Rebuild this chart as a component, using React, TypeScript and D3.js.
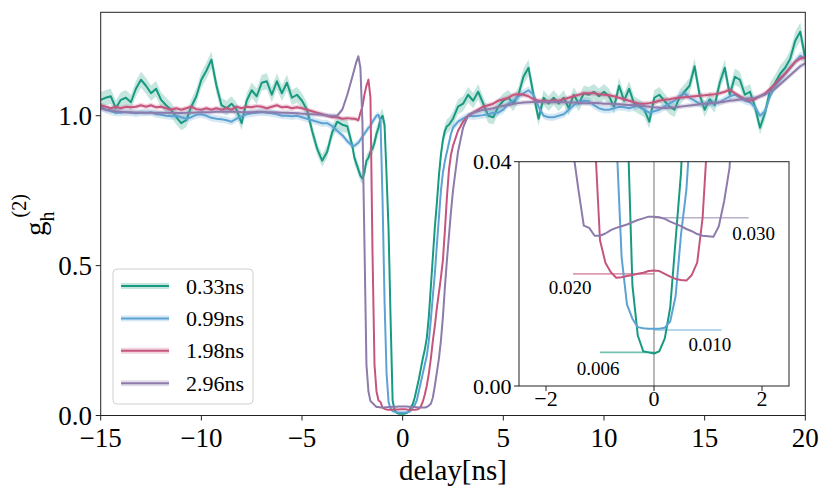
import * as d3 from "d3";

// delay grid: coarse on the baseline, fine through the antibunching dip
const delayLeft = d3.range(50).map((i) => -15 + i * 0.25);
const delayCore = d3.range(51).map((i) => +(-2.5 + i * 0.1).toFixed(2));
const delayRight = d3.range(70).map((i) => 2.75 + i * 0.25);
const delays = [...delayLeft, ...delayCore, ...delayRight];

// g2 for each pulse width
const g033 = [
	1.053, 1.06, 1.065, 1.025, 1.053, 1.06, 1.045, 1.09, 1.12, 1.1,
	1.075, 1.09, 1.053, 1.035, 1.02, 0.995, 0.975, 0.985, 1.03, 1.065,
	1.12, 1.15, 1.187, 1.1, 1.035, 1.025, 1.04, 1.02, 0.975, 1.05,
	1.085, 1.065, 1.11, 1.115, 1.07, 1.115, 1.075, 1.11, 1.06, 1.07,
	1.05, 1.02, 0.95, 0.89, 0.85, 0.88, 0.945, 0.98, 0.97, 0.965,
	// core -2.5 .. 2.5
	0.9, 0.86, 0.84, 0.82, 0.8, 0.79, 0.81, 0.85, 0.86, 0.88,
	0.89, 0.91, 0.94, 0.96, 0.99, 1.0, 0.97, 0.8, 0.62, 0.32,
	0.05, 0.018, 0.009, 0.0062, 0.006, 0.0058, 0.0062, 0.0085, 0.014, 0.026,
	0.038, 0.06, 0.09, 0.12, 0.155, 0.19, 0.22, 0.26, 0.33, 0.43,
	0.53, 0.63, 0.71, 0.8, 0.87, 0.92, 0.95, 0.965, 0.97, 0.98, 0.99,
	// 2.75 .. 20
	1.03, 1.04, 1.07, 1.05, 1.08, 1.04, 1.0, 0.995, 1.03, 1.05,
	1.06, 1.04, 1.07, 1.13, 1.16, 1.07, 0.99, 1.06, 1.04, 1.06,
	1.04, 1.06, 1.025, 1.07, 1.04, 1.075, 1.07, 1.08, 1.065, 1.08,
	1.065, 1.03, 1.1, 1.05, 1.09, 1.04, 1.03, 1.02, 0.98, 1.06,
	1.07, 1.05, 1.03, 1.02, 1.06, 1.08, 1.1, 1.165, 1.07, 1.02,
	1.055, 1.035, 1.11, 1.16, 1.07, 1.13, 1.12, 1.07, 1.08, 1.03,
	0.96, 1.01, 1.085, 1.11, 1.14, 1.16, 1.19, 1.25, 1.28, 1.19,
];

const g099 = [
	1.03, 1.02, 1.015, 1.01, 1.01, 1.012, 1.01, 1.008, 1.01, 1.01,
	1.012, 1.005, 1.003, 1.0, 0.998, 1.0, 0.995, 0.99, 0.995, 1.003,
	1.005, 1.0, 0.993, 0.99, 0.988, 0.985, 0.98, 0.99, 0.998, 1.005,
	1.008, 1.01, 1.012, 1.01, 1.008, 1.005, 1.0, 1.0, 0.998, 1.0,
	0.995, 0.99, 0.985, 0.98, 0.975, 0.975, 0.965, 0.95, 0.935, 0.915,
	0.9, 0.9, 0.905, 0.91, 0.92, 0.93, 0.94, 0.95, 0.96, 0.965,
	0.98, 0.99, 1.0, 1.003, 0.98, 0.72, 0.38, 0.14, 0.045, 0.023,
	0.0145, 0.012, 0.0105, 0.0103, 0.0102, 0.0102, 0.0102, 0.0104, 0.0115, 0.016,
	0.027, 0.035, 0.05, 0.08, 0.11, 0.14, 0.17, 0.2, 0.25, 0.32,
	0.4, 0.475, 0.57, 0.66, 0.75, 0.81, 0.85, 0.88, 0.91, 0.94, 0.96,
	0.98, 0.99, 1.0, 0.998, 1.0, 1.002, 1.005, 1.01, 1.01, 1.02,
	1.04, 1.05, 1.065, 1.075, 1.085, 1.07, 1.03, 1.0, 0.995, 0.995,
	1.0, 1.005, 1.02, 1.035, 1.045, 1.05, 1.048, 1.035, 1.025, 1.02,
	1.02, 1.025, 1.03, 1.028, 1.025, 1.03, 1.035, 1.02, 1.01, 1.015,
	1.02, 1.03, 1.04, 1.05, 1.065, 1.075, 1.06, 1.05, 1.04, 1.04,
	1.045, 1.04, 1.045, 1.055, 1.065, 1.07, 1.06, 1.05, 1.045, 1.03,
	1.0, 1.015, 1.065, 1.1, 1.12, 1.14, 1.16, 1.18, 1.2, 1.19,
];

const g198 = [
	1.035, 1.03, 1.025, 1.03, 1.025, 1.03, 1.028, 1.03, 1.035, 1.03,
	1.035, 1.028, 1.03, 1.025, 1.02, 1.025, 1.02, 1.025, 1.03, 1.022,
	1.02, 1.025, 1.02, 1.025, 1.02, 1.025, 1.02, 1.03, 1.025, 1.03,
	1.028, 1.032, 1.03, 1.025, 1.03, 1.035, 1.028, 1.03, 1.025, 1.028,
	1.025, 1.02, 1.015, 1.01, 1.005, 1.0, 0.995, 0.995, 0.99, 0.992,
	0.99, 0.99, 0.988, 0.985, 1.01, 1.03, 1.07, 1.1, 1.12, 1.06,
	0.55, 0.17, 0.08, 0.05, 0.045, 0.026, 0.022, 0.0203, 0.0193, 0.0194,
	0.0196, 0.0198, 0.02, 0.0202, 0.0205, 0.0206, 0.0205, 0.02, 0.0195, 0.0191,
	0.0189, 0.0188, 0.0198, 0.022, 0.03, 0.046, 0.07, 0.1, 0.14, 0.19,
	0.25, 0.3, 0.36, 0.41, 0.46, 0.52, 0.62, 0.73, 0.82, 0.87, 0.9,
	0.95, 0.98, 1.0, 1.01, 1.02, 1.03, 1.035, 1.04, 1.05, 1.055,
	1.06, 1.07, 1.072, 1.07, 1.065, 1.055, 1.05, 1.05, 1.048, 1.052,
	1.05, 1.055, 1.06, 1.065, 1.07, 1.075, 1.075, 1.075, 1.072, 1.07,
	1.068, 1.065, 1.06, 1.055, 1.05, 1.045, 1.04, 1.04, 1.042, 1.045,
	1.05, 1.053, 1.055, 1.058, 1.06, 1.062, 1.063, 1.065, 1.067, 1.068,
	1.07, 1.072, 1.075, 1.08, 1.087, 1.075, 1.065, 1.055, 1.05, 1.055,
	1.065, 1.075, 1.09, 1.105, 1.125, 1.14, 1.16, 1.18, 1.19, 1.195,
];

const g296 = [
	1.025, 1.02, 1.018, 1.015, 1.013, 1.012, 1.012, 1.011, 1.011, 1.01,
	1.01, 1.01, 1.01, 1.01, 1.01, 1.009, 1.009, 1.01, 1.01, 1.011,
	1.012, 1.012, 1.012, 1.013, 1.013, 1.013, 1.013, 1.013, 1.012, 1.012,
	1.012, 1.013, 1.013, 1.012, 1.012, 1.011, 1.01, 1.01, 1.009, 1.008,
	1.007, 1.006, 1.005, 1.004, 1.003, 1.001, 1.0, 1.0, 1.02, 1.07,
	1.13, 1.155, 1.18, 1.198, 1.16, 0.98, 0.58, 0.17, 0.08, 0.048,
	0.042, 0.035, 0.0286, 0.0282, 0.0268, 0.0268, 0.0272, 0.0278, 0.0282, 0.0285,
	0.0288, 0.0292, 0.0296, 0.0299, 0.0302, 0.0302, 0.0301, 0.0298, 0.0293, 0.0289,
	0.0285, 0.028, 0.0276, 0.0271, 0.0268, 0.0267, 0.0266, 0.0285, 0.033, 0.039,
	0.06, 0.1, 0.145, 0.19, 0.25, 0.33, 0.43, 0.52, 0.6, 0.68, 0.75,
	0.88, 0.96, 1.0, 1.01, 1.015, 1.02, 1.022, 1.025, 1.03, 1.033,
	1.036, 1.04, 1.042, 1.044, 1.045, 1.046, 1.046, 1.045, 1.045, 1.046,
	1.045, 1.045, 1.044, 1.044, 1.043, 1.042, 1.042, 1.043, 1.042, 1.04,
	1.04, 1.039, 1.038, 1.037, 1.036, 1.035, 1.034, 1.032, 1.03, 1.028,
	1.027, 1.026, 1.027, 1.028, 1.03, 1.032, 1.034, 1.036, 1.038, 1.04,
	1.041, 1.043, 1.045, 1.047, 1.05, 1.052, 1.054, 1.056, 1.058, 1.06,
	1.065, 1.07, 1.08, 1.09, 1.105, 1.12, 1.135, 1.15, 1.165, 1.175,
];

const seriesLabels = ["0.33ns", "0.99ns", "1.98ns", "2.96ns"];
const seriesValues = [g033, g099, g198, g296];
// relative uncertainty of each trace (shaded band)
const seriesErr = [0.024, 0.012, 0.008, 0.008];
const colors = ["#179a80", "#5ca3d4", "#c6557e", "#8c7bab"];

// minimum g2 levels marked in the inset
const levels = [
	{ label: "0.006", value: 0.006, from: -1.0, to: 0 },
	{ label: "0.010", value: 0.01, from: 0, to: 1.25 },
	{ label: "0.020", value: 0.02, from: -1.5, to: 0 },
	{ label: "0.030", value: 0.03, from: 0, to: 1.75 },
];
// where the level labels sit (inset data coords)
const levelLabelPos = [
	{ x: -1.43, y: 0.00196 },
	{ x: 0.64, y: 0.00624 },
	{ x: -1.95, y: 0.0164 },
	{ x: 1.45, y: 0.026 },
];

const xTicks = [-15, -10, -5, 0, 5, 10, 15, 20];
const yTicks = [0, 0.5, 1.0];
const insetXTicks = [-2, 0, 2];
const insetYTicks = [0, 0.04];

const FONT = "'Liberation Serif', 'DejaVu Serif', serif";
const minus = (v: number, s: string) => (v < 0 ? "\u2212" + s.replace("-", "") : s);

export default function App() {
	const width = 830;
	const height = 498;
	const box = { left: 100.7, right: 805.3, top: 12.3, bottom: 415.5 };
	const ibox = { left: 519, right: 789, top: 161.7, bottom: 386 };

	const x = d3.scaleLinear().domain([-15, 20]).range([box.left, box.right]);
	const y = d3.scaleLinear().domain([0, 1.345]).range([box.bottom, box.top]);
	const xi = d3.scaleLinear().domain([-2.5, 2.5]).range([ibox.left, ibox.right]);
	const yi = d3.scaleLinear().domain([0, 0.04]).range([ibox.bottom, ibox.top]);

	const coreStart = delayLeft.length;
	const coreEnd = coreStart + delayCore.length;

	const fmt1 = d3.format(".1f");
	const fmt2 = d3.format(".2f");

	return (
		<svg
			width={width}
			height={height}
			style={{ position: "absolute", left: 0, top: 0, background: "#fff" }}
			fontFamily={FONT}
		>
			<defs>
				<clipPath id="main-clip">
					<rect x={box.left} y={box.top} width={box.right - box.left} height={box.bottom - box.top} />
				</clipPath>
				<clipPath id="inset-clip">
					<rect x={ibox.left} y={ibox.top} width={ibox.right - ibox.left} height={ibox.bottom - ibox.top} />
				</clipPath>
			</defs>

			{/* main traces */}
			<g clipPath="url(#main-clip)">
				{seriesValues.map((vals, s) => {
					const pts = vals.map((v, i) => [delays[i], v] as [number, number]);
					const band = d3
						.area<[number, number]>()
						.x((d) => x(d[0]))
						.y0((d) => y(d[1] * (1 - seriesErr[s])))
						.y1((d) => y(d[1] * (1 + seriesErr[s])));
					const line = d3
						.line<[number, number]>()
						.x((d) => x(d[0]))
						.y((d) => y(d[1]));
					return (
						<g key={s}>
							<path d={band(pts) ?? ""} fill={colors[s]} fillOpacity={0.25} stroke="none" />
							<path d={line(pts) ?? ""} fill="none" stroke={colors[s]} strokeWidth={2} strokeLinejoin="round" />
						</g>
					);
				})}
			</g>

			{/* main frame */}
			<rect
				x={box.left}
				y={box.top}
				width={box.right - box.left}
				height={box.bottom - box.top}
				fill="none"
				stroke="#222"
				strokeWidth={1}
			/>
			{xTicks.map((t) => (
				<g key={t}>
					<line x1={x(t)} x2={x(t)} y1={box.bottom} y2={box.bottom + 5} stroke="#222" />
					<text x={x(t)} y={447} textAnchor="middle" fontSize={27}>
						{minus(t, String(t))}
					</text>
				</g>
			))}
			{yTicks.map((t) => (
				<g key={t}>
					<line x1={box.left - 5} x2={box.left} y1={y(t)} y2={y(t)} stroke="#222" />
					<text x={92} y={y(t) + 9} textAnchor="end" fontSize={27}>
						{fmt1(t)}
					</text>
				</g>
			))}
			<text x={(box.left + box.right) / 2} y={480} textAnchor="middle" fontSize={29}>
				delay[ns]
			</text>
			<text transform="translate(45,215) rotate(-90)" textAnchor="middle" fontSize={29}>
				g
				<tspan dy={9} fontSize={20}>
					h
				</tspan>
				<tspan dx={-6} dy={-28} fontSize={20}>
					(2)
				</tspan>
			</text>

			{/* legend */}
			<rect x={113} y={269} width={140} height={135} rx={4} fill="#fff" fillOpacity={0.8} stroke="#d0d0d0" />
			{seriesLabels.map((lab, s) => {
				const ly = 286 + s * 32.4;
				return (
					<g key={lab}>
						<rect x={121} y={ly - 3} width={48} height={6} fill={colors[s]} fillOpacity={0.25} />
						<line x1={121} x2={169} y1={ly} y2={ly} stroke={colors[s]} strokeWidth={2} />
						<text x={186} y={ly + 7.5} fontSize={22}>
							{lab}
						</text>
					</g>
				);
			})}

			{/* inset */}
			<rect
				x={ibox.left}
				y={ibox.top}
				width={ibox.right - ibox.left}
				height={ibox.bottom - ibox.top}
				fill="#fff"
			/>
			<g clipPath="url(#inset-clip)">
				<line x1={xi(0)} x2={xi(0)} y1={ibox.top} y2={ibox.bottom} stroke="#a8a8a8" strokeWidth={1.6} />
				{levels.map((lv, s) => (
					<line
						key={lv.label}
						x1={xi(lv.from)}
						x2={xi(lv.to)}
						y1={yi(lv.value)}
						y2={yi(lv.value)}
						stroke={colors[s]}
						strokeOpacity={0.6}
						strokeWidth={1.6}
					/>
				))}
				{seriesValues.map((vals, s) => {
					const pts = vals
						.slice(coreStart, coreEnd)
						.map((v, i) => [delayCore[i], v] as [number, number]);
					const line = d3
						.line<[number, number]>()
						.x((d) => xi(d[0]))
						.y((d) => yi(d[1]));
					return (
						<path
							key={s}
							d={line(pts) ?? ""}
							fill="none"
							stroke={colors[s]}
							strokeWidth={2}
							strokeLinejoin="round"
						/>
					);
				})}
			</g>
			{levels.map((lv, s) => (
				<text key={lv.label} x={xi(levelLabelPos[s].x)} y={yi(levelLabelPos[s].y)} fontSize={19}>
					{lv.label}
				</text>
			))}
			<rect
				x={ibox.left}
				y={ibox.top}
				width={ibox.right - ibox.left}
				height={ibox.bottom - ibox.top}
				fill="none"
				stroke="#222"
				strokeWidth={1}
			/>
			{insetXTicks.map((t) => (
				<g key={t}>
					<line x1={xi(t)} x2={xi(t)} y1={ibox.bottom} y2={ibox.bottom + 5} stroke="#222" />
					<text x={xi(t)} y={406} textAnchor="middle" fontSize={22}>
						{minus(t, String(t))}
					</text>
				</g>
			))}
			{insetYTicks.map((t) => (
				<g key={t}>
					<line x1={ibox.left - 5} x2={ibox.left} y1={yi(t)} y2={yi(t)} stroke="#222" />
					<text x={511.5} y={yi(t) + 7.5} textAnchor="end" fontSize={22}>
						{fmt2(t)}
					</text>
				</g>
			))}
		</svg>
	);
}
